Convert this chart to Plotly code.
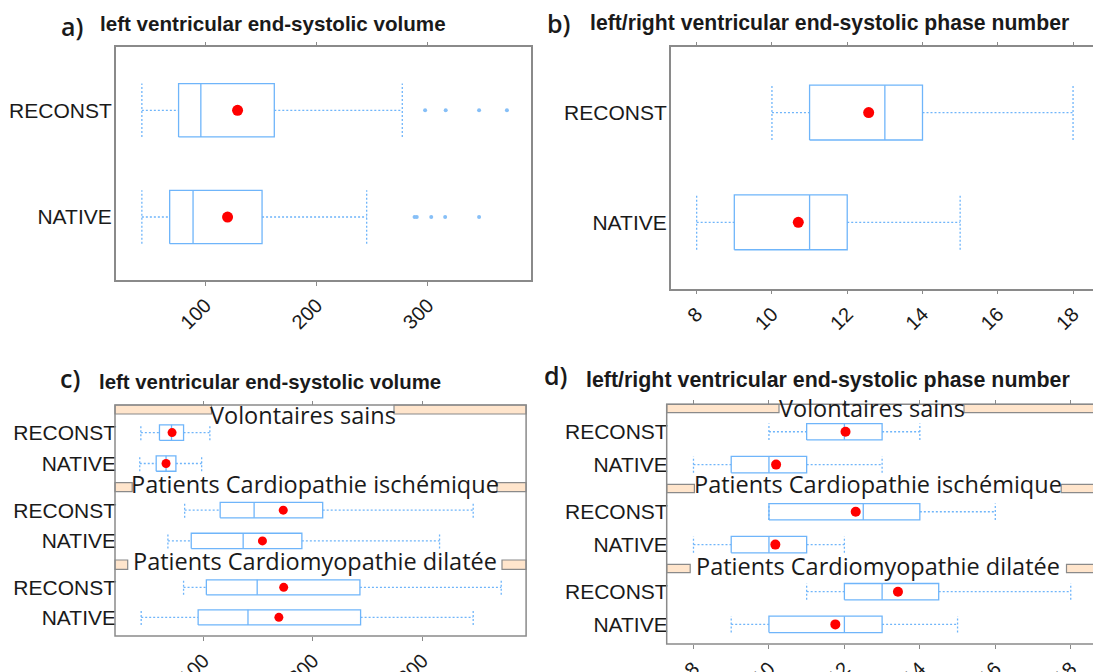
import plotly.graph_objects as go

W, H = 1093, 672


def px(x):
    return x / W


def py(y):
    return 1 - y / H


# ---------------- data ----------------
categories = ["NATIVE", "RECONST"]
groups = ["Volontaires sains", "Patients Cardiopathie ischémique", "Patients Cardiomyopathie dilatée"]

# panel a : left ventricular end-systolic volume (all)
a_low = [43, 43]
a_q1 = [68, 76]
a_med = [89, 96]
a_q3 = [151, 162]
a_high = [245, 277]
a_mean = [120, 129]
a_out_native = [288, 290, 303, 315.5, 346]
a_out_reconst = [297.5, 316, 346, 371]

# panel b : left/right ventricular end-systolic phase number (all)
b_low = [8, 10]
b_q1 = [9, 11]
b_med = [11, 13]
b_q3 = [12, 14]
b_high = [15, 18]
b_mean = [10.7, 12.57]

# panel c : volume by group  (each entry = [NATIVE, RECONST])
c_low = [[42, 43], [67.7, 83], [43.3, 82]]
c_q1 = [[57, 60], [89, 115.4], [95.3, 102.8]]
c_med = [[66, 71], [136.4, 146.4], [140.8, 149.2]]
c_q3 = [[75, 82], [190, 209], [243.6, 243]]
c_high = [[98.5, 106], [315.7, 346.4], [346.4, 372]]
c_mean = [[66, 71.5], [154, 173], [169, 173.4]]

# panel d : phase number by group
d_low = [[8, 10], [8, 10], [9, 11]]
d_q1 = [[9, 11], [9, 10], [10, 12]]
d_med = [[10, 12], [10, 12.5], [12, 13]]
d_q3 = [[11, 13], [11, 14], [13, 14.5]]
d_high = [[13, 14], [12, 16], [15, 18]]
d_mean = [[10.19, 12.03], [10.17, 12.3], [11.76, 13.42]]

vol_ticks = [100, 200, 300]
phase_ticks = [8, 10, 12, 14, 16, 18]

# ---------------- style ----------------
BLUE = "#6fb5fa"
DOT_BLUE = "#86bff7"
RED = "#ff0000"
GREY = "#8a8a8a"
TXT = "#1a1a1a"
STRIP = "#ffe5cc"
SANS = "Liberation Sans, Arial, sans-serif"
HUM = "Open Sans, Noto Sans, sans-serif"

fig = go.Figure()


def add_boxes(xa, ya, low, q1, med, q3, high, mean, msize, outliers=None):
    bw = 0.25
    bx, by, wx, wy = [], [], [], []
    for i in range(len(low)):
        yc = i + 1
        bx += [q1[i], q3[i], q3[i], q1[i], q1[i], None, med[i], med[i], None]
        by += [yc - bw, yc - bw, yc + bw, yc + bw, yc - bw, None, yc - bw, yc + bw, None]
        wx += [low[i], q1[i], None, q3[i], high[i], None,
               low[i], low[i], None, high[i], high[i], None]
        wy += [yc, yc, None, yc, yc, None,
               yc - bw, yc + bw, None, yc - bw, yc + bw, None]
    common = dict(xaxis=xa, yaxis=ya, hoverinfo="skip", showlegend=False)
    fig.add_trace(go.Scatter(x=wx, y=wy, mode="lines",
                             line=dict(color=BLUE, width=1.3, dash="2px,2px"), **common))
    fig.add_trace(go.Scatter(x=bx, y=by, mode="lines",
                             line=dict(color=BLUE, width=1.3), **common))
    if outliers:
        ox, oy = [], []
        for i, vals in enumerate(outliers):
            ox += vals
            oy += [i + 1] * len(vals)
        fig.add_trace(go.Scatter(x=ox, y=oy, mode="markers",
                                 marker=dict(color=DOT_BLUE, size=4), **common))
    fig.add_trace(go.Scatter(x=mean, y=[i + 1 for i in range(len(mean))], mode="markers",
                             marker=dict(color=RED, size=msize), **common))


add_boxes("x", "y", a_low, a_q1, a_med, a_q3, a_high, a_mean, 11,
          outliers=[a_out_native, a_out_reconst])
add_boxes("x2", "y2", b_low, b_q1, b_med, b_q3, b_high, b_mean, 11)
for g in range(3):
    add_boxes("x%d" % (3 + g), "y%d" % (3 + g), c_low[g], c_q1[g], c_med[g], c_q3[g],
              c_high[g], c_mean[g], 9)
    add_boxes("x%d" % (6 + g), "y%d" % (6 + g), d_low[g], d_q1[g], d_med[g], d_q3[g],
              d_high[g], d_mean[g], 10)

tickfont = dict(family=SANS, size=20, color=TXT)
catfont = dict(family=SANS, size=21, color=TXT)

base_x = dict(showgrid=False, zeroline=False, ticks="outside", ticklen=4, tickwidth=1,
              tickcolor=GREY, tickangle=-45, tickfont=tickfont, linecolor=GREY, linewidth=1.5,
              automargin=False)
base_y = dict(showgrid=False, zeroline=False, ticks="", tickvals=[1, 2], ticktext=categories,
              tickfont=catfont, linecolor=GREY, linewidth=1.5, ticklabelstandoff=-2,
              automargin=False)

layout = {}
# panel a
layout["xaxis"] = dict(base_x, domain=[px(115.7), px(531.4)], range=[19.5, 393], anchor="y",
                       tickvals=vol_ticks, showline=True, mirror="ticks")
layout["yaxis"] = dict(base_y, domain=[py(280), py(47.3)], range=[0.41, 2.59], anchor="x",
                       showline=True, mirror=True)
# panel b
layout["xaxis2"] = dict(base_x, domain=[px(670.7), 1.0], range=[7.31, 18.53], anchor="y2",
                        tickvals=phase_ticks, showline=True, mirror="ticks")
layout["yaxis2"] = dict(base_y, domain=[py(288.7), py(47.3)], range=[0.395, 2.595], anchor="x2",
                        showline=True, mirror=False)

# panel c (three stacked sub-panels)
c_left, c_right = 115, 526.1
c_strips = [(405, 414), (482.7, 491.7), (560, 569.3)]
c_plots = [(414, 482.7), (491.7, 560), (569.3, 636)]
c_gaps = [(211.5, 394), (132.2, 497), (127.7, 502)]
c_text = [(303, 414.7), (314.6, 484.2), (314.9, 560.5)]
for g in range(3):
    k = 3 + g
    xd = dict(base_x, domain=[px(c_left), px(c_right)], range=[19.4, 394.7],
              tickvals=vol_ticks, showline=False)
    if g == 0:
        xd.update(anchor="free", position=py(c_strips[0][0]), side="top", showticklabels=False)
    elif g == 2:
        xd.update(anchor="y%d" % k)
    else:
        xd.update(anchor="y%d" % k, visible=False)
    layout["xaxis%d" % k] = xd
    layout["yaxis%d" % k] = dict(base_y, domain=[py(c_plots[g][1]), py(c_plots[g][0])],
                                 range=[0.38, 2.6], anchor="x%d" % k, showline=False)

# panel d
d_left, d_right = 666.7, 1100
d_strips = [(404.3, 412.7), (484.3, 492.7), (564.3, 572.7)]
d_plots = [(412.7, 484.3), (492.7, 564.3), (572.7, 644)]
d_gaps = [(779, 964), (694.4, 1061.2), (690.2, 1066.5)]
d_text = [(872, 407.7), (877.8, 484.2), (878.4, 565.8)]
for g in range(3):
    k = 6 + g
    xd = dict(base_x, domain=[px(d_left), 1.0], range=[7.29, 18.59],
              tickvals=phase_ticks, showline=False)
    if g == 0:
        xd.update(anchor="free", position=py(d_strips[0][0]), side="top", showticklabels=False)
    elif g == 2:
        xd.update(anchor="y%d" % k)
    else:
        xd.update(anchor="y%d" % k, visible=False)
    layout["xaxis%d" % k] = xd
    layout["yaxis%d" % k] = dict(base_y, domain=[py(d_plots[g][1]), py(d_plots[g][0])],
                                 range=[0.4, 2.58], anchor="x%d" % k, showline=False)

shapes = []
annotations = []


def strip_panel(left, right, strips, gaps, texts):
    for (t, b), (gl, gr), (tx, ty), name in zip(strips, gaps, texts, groups):
        for x0, x1 in ((left, gl), (gr, right)):
            shapes.append(dict(type="rect", xref="paper", yref="paper",
                               x0=px(x0), x1=px(x1), y0=py(b), y1=py(t),
                               fillcolor=STRIP, line=dict(color=GREY, width=1.2), layer="above"))
        annotations.append(dict(text=name, xref="paper", yref="paper", x=px(tx), y=py(ty),
                                xanchor="center", yanchor="middle", showarrow=False,
                                font=dict(family=HUM, size=23.5, color=TXT)))


strip_panel(c_left, c_right, c_strips, c_gaps, c_text)
strip_panel(d_left, d_right, d_strips, d_gaps, d_text)

# outer frames of c and d
shapes.append(dict(type="rect", xref="paper", yref="paper", x0=px(c_left), x1=px(c_right),
                   y0=py(636), y1=py(405), line=dict(color=GREY, width=1.5), layer="above"))
shapes.append(dict(type="rect", xref="paper", yref="paper", x0=px(d_left), x1=px(d_right),
                   y0=py(644), y1=py(404.3), line=dict(color=GREY, width=1.5), layer="above"))

titles = [
    ("a)", 58.7, 26, "left ventricular end-systolic volume", 98.3, 23.5, 20.6),
    ("b)", 545, 22.5, "left/right ventricular end-systolic phase number", 587.7, 23, 21.2),
    ("c)", 58.4, 378, "left ventricular end-systolic volume", 96.8, 382, 20.4),
    ("d)", 541.8, 375, "left/right ventricular end-systolic phase number", 584.2, 380, 21.4),
]
for lab, lx, ly, title, tx, ty, ts in titles:
    annotations.append(dict(text=lab, xref="paper", yref="paper", x=px(lx), y=py(ly),
                            xanchor="left", yanchor="middle", showarrow=False,
                            font=dict(family=HUM, size=25, color=TXT, weight=600)))
    annotations.append(dict(text="<b>%s</b>" % title, xref="paper", yref="paper",
                            x=px(tx), y=py(ty), xanchor="left", yanchor="middle",
                            showarrow=False, font=dict(family=SANS, size=ts, color=TXT)))

fig.update_layout(
    width=W, height=H, margin=dict(l=0, r=0, t=0, b=0),
    paper_bgcolor="white", plot_bgcolor="rgba(0,0,0,0)",
    showlegend=False, shapes=shapes, annotations=annotations, **layout,
)

fig.write_html("out.html", config={"displayModeBar": False},
               post_script="document.body.style.margin='0px';document.body.style.overflow='hidden';")
